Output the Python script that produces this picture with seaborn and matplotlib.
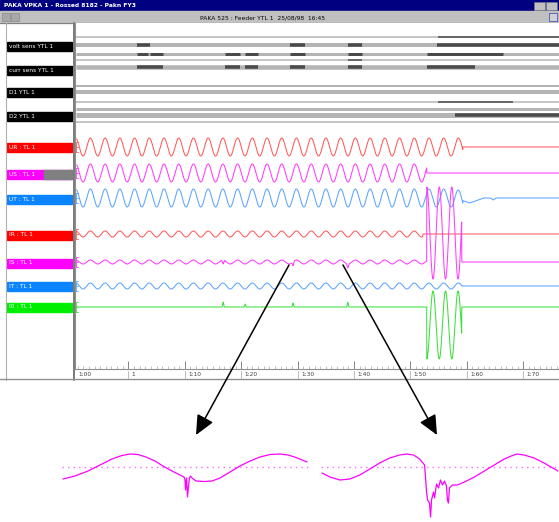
import numpy as np
import pandas as pd
import seaborn as sns
import matplotlib
matplotlib.use("Agg")
import matplotlib.pyplot as plt
from matplotlib.patches import Rectangle

sns.set_style("white")
plt.rcParams["font.family"] = ["DejaVu Sans"]

# ---------------- data ----------------
window_title = "PAKA VPKA 1 - Rossed 8182 - Pakn FY3"
record_title = "PAKA 525 : Feeder YTL 1  25/08/98  16:45"

digital_labels = ["volt sens YTL 1", "curr sens YTL 1", "D1 YTL 1", "D2 YTL 1"]

analog_labels = ["UR : TL 1", "US : TL 1", "UT : TL 1", "IR : TL 1", "IS : TL 1", "IT : TL 1", "I0 : TL 1"]
analog_colors = ["#ff5a5a", "#ff3cff", "#5aa5ff", "#ff5a5a", "#ff3cff", "#5aa5ff", "#3ce03c"]
label_colors = ["#ff0000", "#ff00ff", "#0a84ff", "#ff0000", "#ff00ff", "#0a84ff", "#00ee00"]
analog_amp = [9.0, 9.0, 9.0, 3.0, 2.0, 3.0, 0.0]            # amplitude before trip
analog_end = [6.93, 6.29, 6.93, 6.22, 6.29, 6.91, 6.29]     # end of pre-trip oscillation (div)
period_pre = 0.261                                          # cycle length (div)

# fault transient (div, amplitude)
fault_start, fault_end, fault_period = 6.29, 6.91, 0.222
fault_amp = {4: 46.0, 6: -34.0}

spike_t_IS = [2.68, 3.92, 4.89]
spike_h_IS = [-4.0, -4.0, -4.0]
spike_t_I0 = [2.68, 3.07, 3.92, 4.89]
spike_h_I0 = [5.0, 3.0, 4.0, 5.0]

# digital channel rows: light bar always present, dark segments = active
dig_rows_w = [1.5, 4.0, 3.0, 1.5, 4.5, 2.0, 4.0, 1.5, 3.0, 5.0, 1.5]
dark_row = [1, 1, 1, 1, 0, 2, 2, 2, 2, 2, 2, 2, 4, 4, 4, 4, 4, 4, 3, 7, 9]
dark_t0 = [1.15, 3.87, 4.89, 6.47, 6.49, 1.15, 1.38, 2.71, 3.07, 3.87, 4.89, 6.29, 1.15, 2.71, 3.07, 3.87, 4.89, 6.29, 4.89, 6.49, 6.79]
dark_t1 = [1.38, 4.13, 5.14, 8.70, 8.70, 1.35, 1.61, 2.98, 3.30, 4.13, 5.14, 7.64, 1.61, 2.98, 3.30, 4.13, 5.14, 7.15, 5.14, 7.82, 8.70]

tick_labels = ["1:00", "1", "1:10", "1:20", "1:30", "1:40", "1:50", "1:60", "1:70"]

# zoomed inset waveforms (sample index, value relative to zero line)
zoom1_x = [0, 12, 25, 37, 49, 59, 67, 75, 83, 92, 100, 107, 115, 121, 122, 122.5, 123.5, 124.5, 125.5, 126.5, 127.5,
           129, 133, 141, 149, 157, 167, 177, 187, 197, 207, 217, 225, 233, 244]
zoom1_y = [-12, -9, -4, 2, 8, 11.5, 13, 12.5, 10, 6, 1, -3, -7, -10, -13, -23, -11, -30, -19, -11, -9,
           -11, -14, -14.5, -14, -11, -5, 1, 6, 10, 12.5, 13, 12, 9.5, 5]
zoom2_x = [0, 8, 18, 28, 38, 48, 58, 68, 78, 85, 92, 98, 103, 104, 105, 106, 108, 109, 110, 112, 113, 115, 117,
           119, 121, 123, 125, 126, 127, 128, 131, 136, 143, 153, 163, 173, 183, 190, 196, 203, 213, 223, 237]
zoom2_y = [-6, -10, -13, -12, -8, -2, 4, 9, 12, 13, 12, 8, 2, -11, -25, -33, -36, -50, -33, -25, -31, -17, -21,
           -13, -18, -14, -19, -33, -36, -21, -18, -18, -15, -10, -4, 2, 8, 11, 13, 12, 9, 4, -4]

# ---------------- layout helpers ----------------
W, H = 559, 522
fig = plt.figure(figsize=(W / 100, H / 100), dpi=100)
fig.patch.set_facecolor("white")


def px_axes(x0, y0, x1, y1, z=1):
    a = fig.add_axes([x0 / W, 1 - y1 / H, (x1 - x0) / W, (y1 - y0) / H])
    a.set_zorder(z)
    return a


chrome = px_axes(0, 0, W, H, z=0)
chrome.set_xlim(0, W)
chrome.set_ylim(H, 0)
chrome.axis("off")

# title bar
chrome.add_patch(Rectangle((0, 0), W, 11, color="#000080"))
chrome.text(4, 5.5, window_title, color="white", fontsize=4.3, va="center", ha="left", fontweight="bold")
for bx in (534, 546):
    chrome.add_patch(Rectangle((bx, 1.5), 11, 8, facecolor="#c0c0c0", edgecolor="#808080", lw=0.4))
# toolbar
chrome.add_patch(Rectangle((0, 11), W, 12, color="#c0c0c0"))
for bx in (2, 11):
    chrome.add_patch(Rectangle((bx, 13), 8, 8, facecolor="#a8a8a8", edgecolor="#808080", lw=0.4))
chrome.add_patch(Rectangle((549, 13), 8, 8, facecolor="#d0d0d0", edgecolor="#3040c0", lw=0.5))
chrome.text(200, 17.5, record_title, color="black", fontsize=4.3, va="center", ha="left")
chrome.plot([0, W], [23, 23], color="#808080", lw=0.8)

# left label panel
chrome.plot([6, 6], [23, 380], color="#b0b0b0", lw=0.8)
chrome.plot([73.5, 73.5], [23, 380], color="#7a7a7a", lw=1.4)
chrome.plot([0, W], [379, 379], color="#909090", lw=1.0)

dig_label_y = [46, 70, 92, 116]
for yc, lab in zip(dig_label_y, digital_labels):
    chrome.add_patch(Rectangle((7, yc - 4.5), 65, 9, color="black"))
    chrome.text(9, yc, lab, color="white", fontsize=4.2, va="center", ha="left")

analog_base = [147, 173, 198, 234, 262, 286, 307]
analog_label_y = [147.5, 174, 199.5, 235, 263, 286.5, 307]
for i, (yc, lab) in enumerate(zip(analog_label_y, analog_labels)):
    chrome.add_patch(Rectangle((7, yc - 4.5), 65, 9, color=label_colors[i]))
    if i == 1:
        chrome.add_patch(Rectangle((44, yc - 4.5), 28, 9, color="#808080"))
    chrome.text(9, yc, lab, color="white", fontsize=4.2, va="center", ha="left")

# ---------------- main recorder axes ----------------
ax = px_axes(75, 23, W, 369, z=2)
x0_div = (75 - 72) / 56.4
x1_div = (W - 72) / 56.4
ax.set_xlim(x0_div, x1_div)
ax.set_ylim(369, 23)
ax.set_facecolor("white")

# digital rows
dig_rows_y = [37, 45, 54, 60, 67, 86, 92, 102, 109, 115, 122]
for yy, ww in zip(dig_rows_y, dig_rows_w):
    ax.hlines(yy, x0_div + 0.02, x1_div, color="#b4b4b4", lw=ww * 0.72)
for r, a, b in zip(dark_row, dark_t0, dark_t1):
    ax.hlines(dig_rows_y[r], a, b, color="#4a4a4a", lw=min(dig_rows_w[r], 3.5) * 0.72)

# analog traces
t = np.linspace(x0_div + 0.03, x1_div, 4000)
for i in range(7):
    sig = np.where(t < analog_end[i], analog_amp[i] * np.sin(2 * np.pi * t / period_pre), 0.0)
    y = analog_base[i] - sig
    if i in fault_amp:
        center = analog_base[i] - 29 if i == 4 else analog_base[i] + 18
        inside = (t >= fault_start) & (t <= fault_end)
        y = np.where(inside, center - fault_amp[i] * np.cos(2 * np.pi * (t - fault_start) / fault_period), y)
    if i == 4:
        for ts, hs in zip(spike_t_IS, spike_h_IS):
            y = y - hs * np.clip(1 - np.abs(t - ts) / 0.025, 0, None)
    if i == 6:
        for ts, hs in zip(spike_t_I0, spike_h_I0):
            y = y - hs * np.clip(1 - np.abs(t - ts) / 0.02, 0, None)
    if i == 2:
        y = y + 5 * np.clip(1 - np.abs(t - 7.05) / 0.25, 0, None) + 2 * np.clip(1 - np.abs(t - 7.47) / 0.05, 0, None)
    df = pd.DataFrame({"t": t, "y": y})
    sns.lineplot(data=df, x="t", y="y", ax=ax, color=analog_colors[i], lw=0.75,
                 estimator=None, sort=False)
    # channel scale marker at the left edge
    ax.plot([x0_div + 0.015] * 2, [analog_base[i] - 5, analog_base[i] + 5], color=analog_colors[i], lw=0.6)
    for dy in (-5, 0, 5):
        ax.plot([x0_div + 0.015, x0_div + 0.06], [analog_base[i] + dy] * 2, color=analog_colors[i], lw=0.6)

ax.set_xlabel("")
ax.set_ylabel("")
ax.set_yticks([])
ax.set_xticks(range(1, 9))
ax.xaxis.set_minor_locator(matplotlib.ticker.MultipleLocator(0.1))
ax.tick_params(axis="x", which="major", direction="in", length=6, width=0.6, color="#707070", labelbottom=False, bottom=True)
ax.tick_params(axis="x", which="minor", direction="in", length=2.5, width=0.4, color="#909090", bottom=True)
for s in ("top", "right"):
    ax.spines[s].set_visible(False)
ax.spines["left"].set_color("#909090")
ax.spines["left"].set_linewidth(0.8)
ax.spines["bottom"].set_color("#909090")
ax.spines["bottom"].set_linewidth(0.8)

for k, lab in enumerate(tick_labels):
    ax.text(max(k, x0_div) + 0.06, 374.5, lab, fontsize=4.2, color="#404040", ha="left", va="center", clip_on=False)
    if k >= 1:
        ax.plot([k, k], [370.5, 378], color="#a0a0a0", lw=0.5, clip_on=False)

# ---------------- zoomed insets ----------------
z1 = px_axes(62, 440, 309, 505, z=3)
z1.set_xlim(-1, 246)
z1.set_ylim(-38, 27)
z1.axhline(0, color="#ff66ff", lw=1.0, ls=(0, (1, 3)))
sns.lineplot(x=zoom1_x, y=zoom1_y, ax=z1, color="#ff00ff", lw=0.9, estimator=None, sort=False)
z1.axis("off")

z2 = px_axes(321, 440, W, 522, z=3)
z2.set_xlim(-1, 238)
z2.set_ylim(-55, 27)
z2.axhline(0, color="#ff66ff", lw=1.0, ls=(0, (1, 3)))
sns.lineplot(x=zoom2_x, y=zoom2_y, ax=z2, color="#ff00ff", lw=0.9, estimator=None, sort=False)
z2.axis("off")

# ---------------- arrows ----------------
ov = px_axes(0, 0, W, H, z=10)
ov.set_xlim(0, W)
ov.set_ylim(H, 0)
ov.axis("off")
ov.patch.set_alpha(0)
for (xs, ys), (xe, ye) in [((289, 265), (196, 435)), ((343, 265), (437, 435))]:
    ov.annotate("", xy=(xe, ye), xytext=(xs, ys),
                arrowprops=dict(arrowstyle="-|>,head_length=1.2,head_width=0.55", color="black", lw=1.1,
                                shrinkA=0, shrinkB=0))

fig.savefig("out.png", dpi=100, facecolor="white")
